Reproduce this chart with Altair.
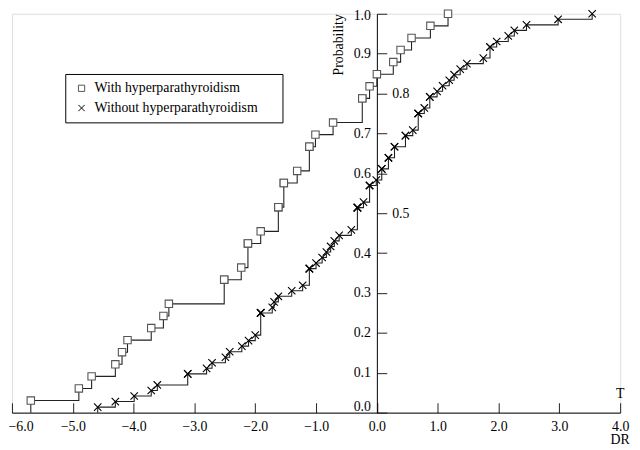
import altair as alt
import pandas as pd

FONT = "Liberation Serif"
groups = ["With hyperparathyroidism", "Without hyperparathyroidism"]

# DR values (one value per plotted marker)
with_dr = [-5.69, -4.90, -4.69, -4.30, -4.19, -4.10, -3.71, -3.51, -3.42,
           -2.51, -2.51, -2.23, -2.12, -2.12, -1.91, -1.62, -1.62, -1.53, -1.53,
           -1.31, -1.11, -1.11, -1.01, -0.72, -0.24, -0.24, -0.12, 0.00, 0.27,
           0.39, 0.57, 0.88, 1.17]
without_dr = [-4.59, -4.30, -3.99, -3.71, -3.61, -3.11, -3.11, -2.80, -2.71, -2.49,
              -2.42, -2.22, -2.11, -2.00, -1.91, -1.91, -1.91, -1.91, -1.72, -1.69,
              -1.62, -1.40, -1.22, -1.11, -1.11, -1.11, -1.00, -0.90, -0.83, -0.76,
              -0.70, -0.62, -0.42, -0.32, -0.32, -0.32, -0.32, -0.22, -0.12, -0.12,
              -0.12, -0.01, 0.08, 0.08, 0.19, 0.19, 0.29, 0.29, 0.47, 0.47,
              0.59, 0.68, 0.68, 0.68, 0.78, 0.87, 0.87, 0.99, 1.08, 1.19,
              1.27, 1.37, 1.48, 1.75, 1.86, 1.86, 1.97, 2.16, 2.26, 2.46,
              2.98, 3.54]

x_ticks = [-6.0, -5.0, -4.0, -3.0, -2.0, -1.0, 0.0, 1.0, 2.0, 3.0, 4.0]
y_ticks = [0.0, 0.1, 0.2, 0.3, 0.4, 0.5, 0.6, 0.7, 0.8, 0.9, 1.0]

W, H = 616, 404
x0px = W * 0.6  # pixel of DR = 0

df = pd.DataFrame({
    "group": [groups[0]] * len(with_dr) + [groups[1]] * len(without_dr),
    "dr": with_dr + without_dr,
})

XPATH = "M-1,-1L1,1M-1,1L1,-1"

xscale = alt.Scale(domain=[-6, 4], nice=False, zero=False)
yscale = alt.Scale(domain=[0, 1], nice=False, zero=False)

x_axis = alt.Axis(
    orient="top", offset=-H, values=x_ticks, format=".1f", tickSize=10,
    labelPadding=-17, labelBaseline="top", labelFlush=False, labelOverlap=False,
    labelAlign={"condition": {"test": "datum.value == -6", "value": "left"}, "value": "center"},
    labelOffset={"condition": {"test": "datum.value == -6", "value": -4}, "value": 0},
    grid=False, title=None, domainColor="black", tickColor="#222",
    labelFont=FONT, labelFontSize=14, labelColor="black",
)
RIGHT_TEST = "abs(datum.value - 0.8) < 1e-6 || abs(datum.value - 0.5) < 1e-6"
y_axis = alt.Axis(
    orient="right", offset=-(W - x0px), values=y_ticks, format=".1f", tickSize=10,
    labelOverlap=False, labelFlush=False,
    labelAlign={"condition": {"test": RIGHT_TEST, "value": "left"}, "value": "right"},
    labelPadding={"condition": {"test": RIGHT_TEST, "value": 5}, "value": -16.5},
    labelOffset={"condition": [{"test": "datum.value == 0", "value": -6},
                               {"test": "datum.value == 1", "value": 2}], "value": 0},
    labelBaseline="middle",
    grid=False, domainColor="black", tickColor="#222",
    labelFont=FONT, labelFontSize=14, labelColor="black",
    title="Probability", titleAngle=270, titleX=-38.7, titleY=31,
    titleAlign="center", titleBaseline="middle", titleFont=FONT, titleFontSize=14,
    titleFontWeight="normal", titleColor="black",
)

legend = alt.Legend(
    title=".", titleOrient="right", titlePadding=14, titleColor="white",
    titleFont=FONT, titleFontSize=14,
    orient="none", legendX=54, legendY=61, direction="vertical",
    strokeColor="black", fillColor="white", padding=7.5,
    symbolSize=40, symbolStrokeWidth=1, symbolFillColor="white",
    symbolOffset=2, labelOffset=6, labelLimit=0,
    labelFont=FONT, labelFontSize=14, labelColor="black",
    rowPadding=6,
)

base = alt.Chart(df)
ecdf = (base
        .transform_window(rank="count()", sort=[alt.SortField("dr")], groupby=["group"])
        .transform_joinaggregate(n="count()", groupby=["group"])
        .transform_calculate(F="datum.rank / datum.n"))

lines = ecdf.mark_line(interpolate="step-after", strokeWidth=1.1, color="#222").encode(
    x=alt.X("dr:Q", scale=xscale, axis=x_axis),
    y=alt.Y("F:Q", scale=yscale, axis=y_axis),
    detail="group:N",
    order=alt.Order("F:Q"),
)

start = (base
         .transform_aggregate(x0="min(dr)", n="count()", groupby=["group"])
         .transform_calculate(F1="1 / datum.n", zero="0")
         .mark_rule(strokeWidth=1.1, color="#222")
         .encode(
             x=alt.X("x0:Q", scale=xscale, axis=x_axis),
             y=alt.Y("zero:Q", scale=yscale, axis=y_axis),
             y2="F1:Q",
         ))

points = ecdf.mark_point(filled=False, fill="white", fillOpacity=1, strokeWidth=1.1,
                         size=56, opacity=1).encode(
    x=alt.X("dr:Q", scale=xscale, axis=x_axis),
    y=alt.Y("F:Q", scale=yscale, axis=y_axis),
    shape=alt.Shape("group:N", scale=alt.Scale(domain=groups, range=["square", XPATH]), legend=legend),
    stroke=alt.Stroke("group:N", scale=alt.Scale(domain=groups, range=["#555", "#000"]), legend=legend),
)

ann = pd.DataFrame({"label": ["T"]})
t_text = alt.Chart(ann).mark_text(font=FONT, fontSize=14, color="black", dy=-19, baseline="middle").encode(
    x=alt.XDatum(4.0, scale=xscale, axis=x_axis),
    y=alt.YDatum(0.0, scale=yscale, axis=y_axis),
    text="label:N",
)
ann2 = pd.DataFrame({"label": ["DR"]})
dr_text = alt.Chart(ann2).mark_text(font=FONT, fontSize=14, color="black", dx=0, dy=28, baseline="middle").encode(
    x=alt.XDatum(4.0, scale=xscale, axis=x_axis),
    y=alt.YDatum(0.0, scale=yscale, axis=y_axis),
    text="label:N",
)

chart = alt.layer(start, lines, points, t_text, dr_text).properties(
    width=W, height=H,
    autosize=alt.AutoSizeParams(type="none"),
    padding={"left": 4, "top": 3, "right": 12, "bottom": 35},
).configure_view(stroke=None).configure(font=FONT)

chart.save("out.html", embed_options={"renderer": "svg", "actions": False})
